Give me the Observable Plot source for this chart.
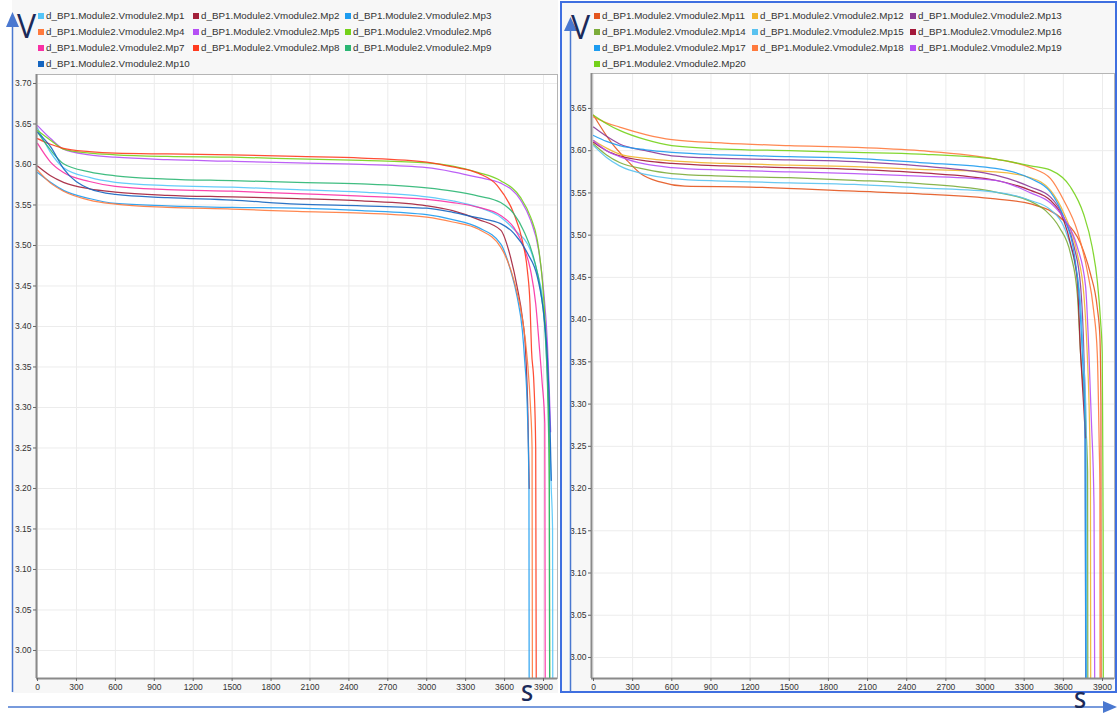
<!DOCTYPE html>
<html><head><meta charset="utf-8">
<script src="https://cdn.jsdelivr.net/npm/d3@7"></script>
<script src="https://cdn.jsdelivr.net/npm/@observablehq/plot@0.6"></script>
<style>
body{margin:0;background:#fff;font-family:"Liberation Sans",Arial,Helvetica,sans-serif;}
#root{position:relative;width:1118px;height:715px;overflow:hidden;background:#fff;}
.panel{position:absolute;background:#f7f7f7;box-sizing:border-box;}
.chart{position:absolute;}
.item{position:absolute;white-space:nowrap;height:12px;line-height:12px;font-size:9.8px;color:#333;display:flex;align-items:center;}
.sw{display:inline-block;width:6px;height:6px;margin-right:2px;flex:none;}
#deco{position:absolute;left:0;top:0;pointer-events:none;}
</style></head><body><div id="root"></div><script>
// ---------- data ----------
const leftNames = ["d_BP1.Module2.Vmodule2.Mp1","d_BP1.Module2.Vmodule2.Mp2","d_BP1.Module2.Vmodule2.Mp3","d_BP1.Module2.Vmodule2.Mp4","d_BP1.Module2.Vmodule2.Mp5","d_BP1.Module2.Vmodule2.Mp6","d_BP1.Module2.Vmodule2.Mp7","d_BP1.Module2.Vmodule2.Mp8","d_BP1.Module2.Vmodule2.Mp9","d_BP1.Module2.Vmodule2.Mp10"];
const rightNames = ["d_BP1.Module2.Vmodule2.Mp11","d_BP1.Module2.Vmodule2.Mp12","d_BP1.Module2.Vmodule2.Mp13","d_BP1.Module2.Vmodule2.Mp14","d_BP1.Module2.Vmodule2.Mp15","d_BP1.Module2.Vmodule2.Mp16","d_BP1.Module2.Vmodule2.Mp17","d_BP1.Module2.Vmodule2.Mp18","d_BP1.Module2.Vmodule2.Mp19","d_BP1.Module2.Vmodule2.Mp20"];
const xTicks = [0,300,600,900,1200,1500,1800,2100,2400,2700,3000,3300,3600,3900];
const leftYTicks = [3.00,3.05,3.10,3.15,3.20,3.25,3.30,3.35,3.40,3.45,3.50,3.55,3.60,3.65,3.70];
const rightYTicks = [3.00,3.05,3.10,3.15,3.20,3.25,3.30,3.35,3.40,3.45,3.50,3.55,3.60,3.65];

// [time s, voltage V]
const Mp1 = [[0,3.645],[100,3.615],[200,3.596],[400,3.584],[600,3.578],[1000,3.574],[1500,3.572],[2000,3.569],[2500,3.566],[3000,3.560],[3200,3.555],[3400,3.547],[3570,3.535],[3672,3.520],[3800,3.494],[3855,3.465],[3900,3.424],[3920,3.374],[3940,3.300],[3960,3.200],[3970,3.150],[3972,2.90]];
const Mp2 = [[0,3.598],[100,3.586],[200,3.578],[400,3.570],[600,3.566],[1000,3.562],[1500,3.560],[2000,3.558],[2500,3.555],[3000,3.549],[3200,3.543],[3400,3.532],[3570,3.519],[3647,3.485],[3698,3.448],[3737,3.411],[3762,3.370],[3780,3.290],[3790,3.200]];
const Mp3 = [[0,3.590],[100,3.578],[200,3.568],[400,3.558],[600,3.552],[1000,3.549],[1500,3.547],[2000,3.546],[2500,3.543],[3000,3.538],[3200,3.532],[3400,3.522],[3570,3.502],[3647,3.469],[3698,3.436],[3737,3.395],[3755,3.358],[3775,3.300],[3788,3.200],[3790,2.90]];
const Mp4 = [[0,3.593],[100,3.577],[200,3.567],[400,3.556],[600,3.551],[1000,3.547],[1500,3.545],[2000,3.542],[2500,3.540],[3000,3.535],[3200,3.529],[3400,3.520],[3570,3.498],[3672,3.457],[3737,3.410],[3776,3.358],[3800,3.300],[3812,3.250],[3815,2.90]];
const Mp5 = [[0,3.648],[100,3.632],[200,3.619],[400,3.612],[600,3.609],[1000,3.606],[1500,3.604],[2000,3.602],[2500,3.600],[3000,3.596],[3200,3.591],[3400,3.584],[3570,3.577],[3724,3.556],[3801,3.531],[3863,3.494],[3901,3.444],[3930,3.380],[3945,3.320],[3955,3.270]];
const Mp6 = [[0,3.642],[100,3.630],[200,3.619],[400,3.614],[600,3.612],[1000,3.610],[1500,3.609],[2000,3.607],[2500,3.605],[3000,3.602],[3200,3.598],[3400,3.590],[3570,3.580],[3724,3.559],[3801,3.535],[3853,3.506],[3891,3.457],[3917,3.395],[3930,3.350],[3945,3.250],[3948,2.90]];
const Mp7 = [[0,3.626],[100,3.603],[200,3.590],[400,3.579],[600,3.573],[1000,3.569],[1500,3.567],[2000,3.564],[2500,3.561],[3000,3.557],[3200,3.553],[3400,3.547],[3570,3.537],[3672,3.522],[3748,3.498],[3801,3.469],[3840,3.428],[3866,3.379],[3890,3.330],[3910,3.280],[3914,2.90]];
const Mp8 = [[0,3.632],[100,3.625],[200,3.620],[400,3.616],[600,3.614],[1000,3.613],[1500,3.612],[2000,3.610],[2500,3.608],[3000,3.603],[3200,3.597],[3400,3.589],[3544,3.574],[3672,3.539],[3737,3.506],[3776,3.469],[3796,3.428],[3808,3.370],[3826,3.330],[3840,3.250],[3845,2.90]];
const Mp9 = [[0,3.640],[100,3.618],[200,3.601],[400,3.591],[600,3.586],[1000,3.582],[1500,3.580],[2000,3.578],[2500,3.576],[3000,3.571],[3200,3.567],[3400,3.561],[3570,3.553],[3672,3.539],[3748,3.518],[3824,3.485],[3878,3.444],[3917,3.380],[3935,3.300],[3945,3.200],[3948,2.90]];
const Mp10 = [[0,3.640],[100,3.622],[200,3.595],[400,3.570],[600,3.563],[1000,3.559],[1500,3.556],[2000,3.551],[2500,3.549],[3000,3.546],[3200,3.541],[3400,3.534],[3570,3.527],[3672,3.515],[3778,3.490],[3853,3.461],[3905,3.411],[3930,3.362],[3950,3.280],[3960,3.210]];

const Mp11 = [[0,3.642],[130,3.611],[260,3.588],[360,3.573],[510,3.563],[700,3.558],[1200,3.557],[2000,3.552],[2500,3.549],[3080,3.543],[3349,3.537],[3604,3.517],[3732,3.490],[3808,3.454],[3860,3.414],[3880,3.380],[3888,3.300],[3890,2.90]];
const Mp12 = [[0,3.612],[100,3.603],[200,3.596],[400,3.591],[600,3.588],[1000,3.585],[1500,3.583],[2000,3.581],[2500,3.578],[3080,3.575],[3349,3.568],[3502,3.553],[3604,3.526],[3707,3.478],[3757,3.430],[3783,3.360],[3800,3.280],[3808,3.200],[3810,2.90]];
const Mp13 = [[0,3.628],[100,3.617],[200,3.608],[400,3.600],[600,3.594],[1000,3.591],[1500,3.589],[2000,3.587],[2500,3.582],[3080,3.571],[3349,3.557],[3502,3.545],[3604,3.521],[3683,3.486],[3732,3.440],[3757,3.360],[3768,3.280],[3772,2.90]];
const Mp14 = [[0,3.608],[100,3.595],[200,3.586],[400,3.578],[600,3.573],[1000,3.570],[1500,3.568],[2000,3.565],[2500,3.561],[3080,3.551],[3349,3.540],[3464,3.529],[3570,3.509],[3655,3.478],[3707,3.430],[3732,3.360],[3770,3.280],[3786,3.220],[3788,2.90]];
const Mp15 = [[0,3.606],[100,3.592],[200,3.582],[400,3.572],[600,3.567],[1000,3.564],[1500,3.562],[2000,3.560],[2500,3.556],[3080,3.551],[3349,3.541],[3502,3.530],[3604,3.510],[3683,3.470],[3732,3.420],[3752,3.360],[3775,3.280],[3778,2.90]];
const Mp16 = [[0,3.610],[100,3.600],[200,3.594],[400,3.588],[600,3.585],[1000,3.582],[1500,3.580],[2000,3.578],[2500,3.574],[3080,3.565],[3349,3.553],[3502,3.541],[3604,3.517],[3655,3.490],[3707,3.446],[3732,3.360],[3755,3.300],[3770,3.260]];
const Mp17 = [[0,3.618],[100,3.611],[200,3.606],[400,3.601],[600,3.598],[1000,3.595],[1500,3.593],[2000,3.591],[2500,3.586],[3080,3.579],[3349,3.567],[3502,3.551],[3604,3.521],[3683,3.478],[3720,3.430],[3745,3.360],[3765,3.280],[3775,2.90]];
const Mp18 = [[0,3.640],[100,3.633],[200,3.628],[400,3.619],[600,3.613],[1000,3.609],[1500,3.606],[2000,3.604],[2500,3.600],[3080,3.590],[3349,3.580],[3502,3.567],[3604,3.541],[3707,3.505],[3783,3.458],[3832,3.411],[3860,3.360],[3875,3.250],[3880,3.200],[3882,2.90]];
const Mp19 = [[0,3.612],[100,3.600],[200,3.593],[400,3.584],[600,3.580],[1000,3.577],[1500,3.575],[2000,3.573],[2500,3.570],[3080,3.565],[3349,3.550],[3502,3.538],[3604,3.520],[3707,3.486],[3770,3.440],[3796,3.360],[3815,3.280],[3835,3.180],[3842,2.90]];
const Mp20 = [[0,3.642],[100,3.632],[200,3.624],[400,3.613],[600,3.606],[1000,3.602],[1500,3.600],[2000,3.598],[2500,3.596],[3080,3.590],[3349,3.582],[3502,3.577],[3655,3.557],[3755,3.525],[3821,3.486],[3860,3.446],[3885,3.399],[3898,3.360],[3902,3.250],[3905,3.150],[3907,2.90]];

const leftSeries = [Mp1,Mp2,Mp3,Mp4,Mp5,Mp6,Mp7,Mp8,Mp9,Mp10];
const rightSeries = [Mp11,Mp12,Mp13,Mp14,Mp15,Mp16,Mp17,Mp18,Mp19,Mp20];

// ---------- styles ----------
const leftColors = ["#54c5f8","#a3203a","#1e9cf0","#ff7a3d","#b54ff5","#74d11a","#f930a4","#ff3b1f","#2bb673","#1565c0"];
const rightColors = ["#e4561f","#f0b42b","#8b3a97","#7cac3a","#59c2f0","#a3183a","#1e9cf0","#ff7a3d","#b54ff5","#74d11a"];

const root = document.getElementById("root");

function chart(names, colors, series, yTicks, cfg) {
  const rows = series.flatMap((s, i) => s.map(([t, v]) => ({t, v, s: names[i]})));
  return Plot.plot({
    width: cfg.width, height: cfg.height,
    marginLeft: cfg.ml, marginRight: cfg.mr, marginTop: cfg.mt, marginBottom: cfg.mb,
    style: {background: "transparent", fontFamily: "'Liberation Sans', Arial, sans-serif", fontSize: "8.5px", color: "#333", overflow: "visible"},
    x: {domain: cfg.xDomain},
    y: {domain: cfg.yDomain},
    color: {domain: names, range: colors},
    marks: [
      Plot.frame({fill: "white", stroke: "none"}),
      Plot.gridX(xTicks, {stroke: "#ececec", strokeOpacity: 1}),
      Plot.gridY(yTicks, {stroke: "#ececec", strokeOpacity: 1}),
      Plot.line(rows, {x: "t", y: "v", z: "s", stroke: "s", strokeWidth: 1.25, strokeOpacity: 0.9, curve: "monotone-x", clip: true}),
      Plot.frame({stroke: "#b5b5b5", strokeWidth: 1}),
      Plot.ruleX([cfg.xDomain[0]], {stroke: "#8a8a8a", strokeWidth: 2}),
      Plot.ruleY([cfg.yDomain[0]], {stroke: "#8a8a8a", strokeWidth: 2}),
      Plot.axisX(xTicks, {tickSize: 3, tickPadding: 2, tickFormat: d => String(d), label: null, stroke: "#666", fill: "#333"}),
      Plot.axisY(yTicks, {tickSize: 3, tickPadding: 2, tickFormat: d => d.toFixed(2), label: null, stroke: "#666", fill: "#333"})
    ]
  });
}

function legend(names, colors, cols, rowsY) {
  names.forEach((n, i) => {
    const d = document.createElement("div");
    d.className = "item";
    d.style.left = cols[i % 3] + "px";
    d.style.top = (rowsY[Math.floor(i / 3)] - 6) + "px";
    const sw = document.createElement("span");
    sw.className = "sw"; sw.style.background = colors[i];
    d.appendChild(sw);
    d.appendChild(document.createTextNode(n));
    root.appendChild(d);
  });
}

// panels
const lp = document.createElement("div");
lp.className = "panel";
Object.assign(lp.style, {left: "12px", top: "0px", width: "546px", height: "693px"});
root.appendChild(lp);
const rp = document.createElement("div");
rp.className = "panel";
Object.assign(rp.style, {left: "560px", top: "1px", width: "557px", height: "692px", border: "2px solid #3f6fe0"});
root.appendChild(rp);

const c1 = chart(leftNames, leftColors, leftSeries, leftYTicks,
  {width: 546, height: 692, ml: 24, mr: 1, mt: 74, mb: 14, xDomain: [-8, 4008], yDomain: [2.9654, 3.7111]});
c1.classList.add("chart"); c1.style.left = "12px"; c1.style.top = "0px";
root.appendChild(c1);

const c2 = chart(rightNames, rightColors, rightSeries, rightYTicks,
  {width: 552, height: 692, ml: 29, mr: 0, mt: 73, mb: 14, xDomain: [-15.3, 3992], yDomain: [2.9751, 3.6914]});
c2.classList.add("chart"); c2.style.left = "562px"; c2.style.top = "0px";
root.appendChild(c2);

const rowsY = [16, 32, 48, 64];
legend(leftNames, leftColors, [38, 193, 345], rowsY);
legend(rightNames, rightColors, [594, 752, 910], rowsY);

// annotations (arrows and axis letters)
const ns = "http://www.w3.org/2000/svg";
const deco = document.createElementNS(ns, "svg");
deco.setAttribute("id", "deco");
deco.setAttribute("width", 1118); deco.setAttribute("height", 715);
const arrowBlue = "#4a78d0", navy = "#1b2a5a";
deco.innerHTML = `
  <line x1="12.5" y1="26" x2="12.5" y2="692" stroke="${arrowBlue}" stroke-width="1.5"/>
  <polygon points="6,27 19,27 12.5,12" fill="${arrowBlue}"/>
  <line x1="570.5" y1="30" x2="570.5" y2="692" stroke="${arrowBlue}" stroke-width="1.5"/>
  <polygon points="564,31 577,31 570.5,17" fill="${arrowBlue}"/>
  <line x1="8" y1="707" x2="1104" y2="707" stroke="${arrowBlue}" stroke-width="1.5"/>
  <polygon points="1103,701 1103,713 1117,707" fill="${arrowBlue}"/>
  <text x="17" y="38" font-family="'Open Sans', sans-serif" font-size="32" fill="${navy}">V</text>
  <text x="571" y="39" font-family="'Open Sans', sans-serif" font-size="32" fill="${navy}">V</text>
  <text x="521" y="701" font-family="'Open Sans', sans-serif" font-size="22" font-weight="600" fill="${navy}">S</text>
  <text x="1074" y="708" font-family="'Open Sans', sans-serif" font-size="22" font-weight="600" fill="${navy}">S</text>
`;
root.appendChild(deco);
</script></body></html>
